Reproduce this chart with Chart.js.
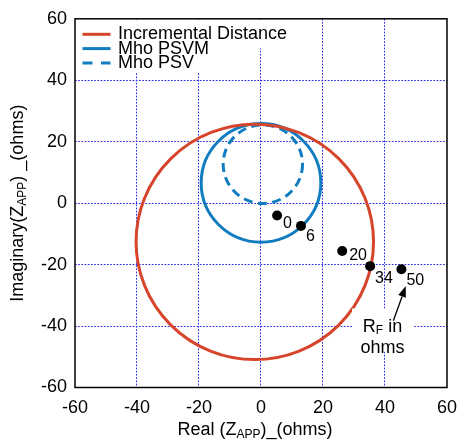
<!DOCTYPE html>
<html>
<head>
<meta charset="utf-8">
<script src="https://cdn.jsdelivr.net/npm/chart.js@4/dist/chart.umd.min.js"></script>
<style>
  html, body { margin: 0; padding: 0; background: #ffffff; }
  canvas { display: block; }
</style>
</head>
<body>
<canvas id="chart" width="467" height="441"></canvas>
<script>
// Relay characteristics in the apparent-impedance plane (ohms)
const circleNames    = ['Incremental Distance', 'Mho PSVM', 'Mho PSV'];
const circleCenterRe = [-2.0, 0.0, 0.6];
const circleCenterIm = [-12.6, 6.6, 12.7];
const circleRadius   = [38.3, 19.3, 12.8];

// Apparent impedance seen for each fault resistance R_F (ohms)
const faultResistance = ['0', '6', '20', '34', '50'];
const zAppReal = [5.2, 12.9, 26.2, 35.2, 45.3];
const zAppImag = [-4.0, -7.4, -15.6, -20.5, -21.5];

// Axis ticks
const axisTicks = [-60, -40, -20, 0, 20, 40, 60];

// Styling
const FONT = '"Liberation Sans", Arial, Helvetica, sans-serif';
const RED = '#d6452b';
const BLUE = '#117cc0';
const GRID_BLUE = '#2b2bf2';
const circleStyles = [
  { color: RED,  dash: [] },
  { color: BLUE, dash: [] },
  { color: BLUE, dash: [9, 5.5] }
];
const drawOrder = [2, 1, 0];
const labelDx = [6, 5, 7, 5, 5];
const labelDy = [12.7, 14.7, 8.7, 16.7, 15.7];

// Callout for the fault-resistance points, in axis units
const calloutText = { re: 39.2, im: -41.8 };
const calloutArrow = { fromRe: 42.7, fromIm: -38.3, toRe: 46.7, toIm: -27.0 };

function fixedTicks(scale) {
  scale.ticks = axisTicks.map(v => ({ value: v }));
}
function gridColor(ctx) {
  return (ctx.tick && Math.abs(ctx.tick.value) === 60) ? 'rgba(0,0,0,0)' : GRID_BLUE;
}

// Draws text pieces in sequence; pieces flagged sub are smaller and lowered
function drawRich(ctx, pieces, x, y, align) {
  const widths = pieces.map(p => {
    ctx.font = (p.sub ? '12px ' : '18px ') + FONT;
    return ctx.measureText(p.t).width;
  });
  const total = widths.reduce((a, b) => a + b, 0);
  let cx = align === 'center' ? x - total / 2 : x;
  pieces.forEach((p, i) => {
    ctx.font = (p.sub ? '12px ' : '18px ') + FONT;
    ctx.fillText(p.t, cx, y + (p.sub ? 2.5 : 0));
    cx += widths[i];
  });
  return total;
}

const circlePlugin = {
  id: 'circles',
  beforeDatasetsDraw(chart) {
    const { ctx, chartArea: a, scales: { x, y } } = chart;
    ctx.save();
    ctx.beginPath();
    ctx.rect(a.left, a.top, a.right - a.left, a.bottom - a.top);
    ctx.clip();
    drawOrder.forEach(i => {
      const cx = x.getPixelForValue(circleCenterRe[i]);
      const cy = y.getPixelForValue(circleCenterIm[i]);
      const rx = Math.abs(x.getPixelForValue(circleCenterRe[i] + circleRadius[i]) - cx);
      const ry = Math.abs(y.getPixelForValue(circleCenterIm[i] + circleRadius[i]) - cy);
      ctx.beginPath();
      ctx.ellipse(cx, cy, rx, ry, 0, 0, Math.PI * 2);
      ctx.lineWidth = 3;
      ctx.strokeStyle = circleStyles[i].color;
      ctx.setLineDash(circleStyles[i].dash);
      ctx.stroke();
    });
    ctx.restore();
  }
};

const decorPlugin = {
  id: 'decor',
  afterDatasetsDraw(chart) {
    const { ctx, chartArea: a, scales: { x, y } } = chart;
    ctx.save();
    ctx.fillStyle = '#000';
    ctx.textAlign = 'left';
    ctx.textBaseline = 'alphabetic';

    // point labels (R_F values)
    ctx.font = '16px ' + FONT;
    faultResistance.forEach((lab, i) => {
      const px = x.getPixelForValue(zAppReal[i]);
      const py = y.getPixelForValue(zAppImag[i]);
      ctx.fillText(lab, px + labelDx[i], py + labelDy[i]);
    });

    // legend inside the plot, on white
    const rowY = [34.3, 48.6, 63];
    ctx.font = '18px ' + FONT;
    const textX = a.left + 43;
    circleNames.forEach((name, i) => {
      const w = ctx.measureText(name).width;
      ctx.fillStyle = '#fff';
      const bottom = rowY[i] + (i === circleNames.length - 1 ? 9 : 14);
      ctx.fillRect(a.left + 1, a.top + 1, textX + w + 6 - a.left, bottom - a.top - 1);
    });
    circleNames.forEach((name, i) => {
      ctx.beginPath();
      ctx.moveTo(a.left + 7.5, rowY[i]);
      ctx.lineTo(a.left + 35.5, rowY[i]);
      ctx.lineWidth = 3;
      ctx.strokeStyle = circleStyles[i].color;
      ctx.setLineDash(circleStyles[i].dash.length ? [10, 8.5] : []);
      ctx.stroke();
      ctx.setLineDash([]);
      ctx.fillStyle = '#000';
      ctx.fillText(name, textX, rowY[i] + 5);
    });

    // callout "R_F in ohms" with arrow
    const tx = x.getPixelForValue(calloutText.re);
    const ty = y.getPixelForValue(calloutText.im);
    ctx.fillStyle = '#fff';
    ctx.fillRect(tx - 30.5, ty - 23, 61, 43.5);
    ctx.fillStyle = '#000';
    drawRich(ctx, [{ t: 'R' }, { t: 'F', sub: true }, { t: ' in' }], tx, ty, 'center');
    ctx.font = '18px ' + FONT;
    ctx.textAlign = 'center';
    ctx.fillText('ohms', tx, ty + 21.5);
    ctx.textAlign = 'left';

    const x0 = x.getPixelForValue(calloutArrow.fromRe);
    const y0 = y.getPixelForValue(calloutArrow.fromIm);
    const x1 = x.getPixelForValue(calloutArrow.toRe);
    const y1 = y.getPixelForValue(calloutArrow.toIm);
    const ang = Math.atan2(y1 - y0, x1 - x0);
    const headLen = 11, headHalf = 4;
    const bx = x1 - headLen * Math.cos(ang), by = y1 - headLen * Math.sin(ang);
    ctx.beginPath();
    ctx.moveTo(x0, y0);
    ctx.lineTo(bx, by);
    ctx.lineWidth = 1.3;
    ctx.strokeStyle = '#000';
    ctx.stroke();
    ctx.beginPath();
    ctx.moveTo(x1, y1);
    ctx.lineTo(bx + headHalf * Math.sin(ang), by - headHalf * Math.cos(ang));
    ctx.lineTo(bx - headHalf * Math.sin(ang), by + headHalf * Math.cos(ang));
    ctx.closePath();
    ctx.fill();

    // plot frame
    ctx.lineWidth = 1.5;
    ctx.strokeStyle = '#000';
    ctx.strokeRect(a.left, a.top, a.right - a.left, a.bottom - a.top);

    // axis titles
    ctx.fillStyle = '#000';
    drawRich(ctx, [{ t: 'Real (Z' }, { t: 'APP', sub: true }, { t: ')_(ohms)' }],
      (a.left + a.right) / 2 - 6, 435, 'center');
    ctx.translate(23, (a.top + a.bottom) / 2);
    ctx.rotate(-Math.PI / 2);
    drawRich(ctx, [{ t: 'Imaginary(Z' }, { t: 'APP', sub: true }, { t: ') _(ohms)' }],
      0, 0, 'center');
    ctx.restore();
  }
};

new Chart(document.getElementById('chart'), {
  type: 'scatter',
  data: {
    datasets: [{
      label: 'R_F',
      data: zAppReal.map((re, i) => ({ x: re, y: zAppImag[i] })),
      pointRadius: 5,
      pointBackgroundColor: '#000',
      pointBorderColor: '#000',
      pointBorderWidth: 0,
      showLine: false
    }]
  },
  options: {
    responsive: false,
    animation: false,
    events: [],
    layout: { padding: { top: 16, right: 14.5, left: 0, bottom: 0 } },
    plugins: { legend: { display: false }, tooltip: { enabled: false } },
    scales: {
      x: {
        type: 'linear', min: -60, max: 60,
        afterBuildTicks: fixedTicks,
        afterFit: s => { s.height = 53.5; },
        grid: { color: gridColor, lineWidth: 1, drawTicks: false },
        border: { display: false, dash: [1.7, 1.5] },
        ticks: { font: { family: FONT, size: 18 }, color: '#000', padding: 10, maxRotation: 0 }
      },
      y: {
        type: 'linear', min: -60, max: 60,
        afterBuildTicks: fixedTicks,
        afterFit: s => { s.width = 75; },
        grid: { color: gridColor, lineWidth: 1, drawTicks: false },
        border: { display: false, dash: [1.7, 1.5] },
        ticks: { font: { family: FONT, size: 18 }, color: '#000', padding: 8 }
      }
    }
  },
  plugins: [circlePlugin, decorPlugin]
});
</script>
</body>
</html>
